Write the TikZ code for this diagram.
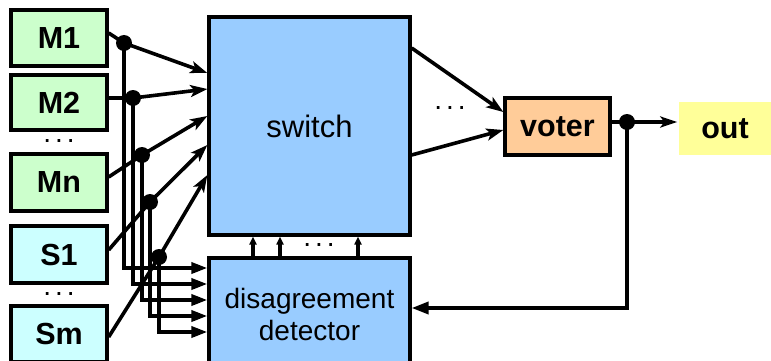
\documentclass[tikz,border=0pt]{standalone}
\usepackage{fontspec}
\setmainfont{Liberation Sans}
\usetikzlibrary{arrows.meta}
\definecolor{mgreen}{HTML}{CCFFCC}
\definecolor{scyan}{HTML}{CCFFFF}
\definecolor{sblue}{HTML}{99CCFF}
\definecolor{vorange}{HTML}{FFCC99}
\definecolor{oyellow}{HTML}{FFFF99}
\tikzset{
  box/.style={draw, line width=3.3pt, inner sep=0pt, minimum width=96pt, minimum height=56pt, font=\fontsize{30.5}{36}\selectfont\bfseries},
  sarr/.style={line width=3.6pt, -{Stealth[length=17pt,width=12pt,inset=4pt]}},
  tarr/.style={line width=3.6pt, -{Triangle[length=16pt,width=11pt]}},
  uarr/.style={line width=3.3pt, -{Triangle[length=8pt,width=7pt]}},
  wire/.style={line width=3.6pt},
  dot/.style={fill, circle, inner sep=0pt, minimum size=16pt},
  dots/.style={anchor=base, inner sep=0pt, font=\fontsize{28}{28}\selectfont}
}
\newcommand{\mydots}{.\kern4pt.\kern4pt.}
\begin{document}
\begin{tikzpicture}[x=1pt,y=-1pt]
\useasboundingbox (0,0) rectangle (771,361);
% input modules
\node[box, fill=mgreen] (M1) at (59,38) {M1};
\node[box, fill=mgreen, minimum height=55pt] (M2) at (59,102.5) {M2};
\node[dots] (dA) at (59,142) {\mydots};
\node[box, fill=mgreen, minimum height=57pt] (Mn) at (59,182.5) {Mn};
\node[box, fill=scyan, minimum height=57pt] (S1) at (59,254.5) {S1};
\node[dots] (dB) at (59,295) {\mydots};
\node[box, fill=scyan] (Sm) at (59,334) {Sm};
% switch and detector
\node[box, fill=sblue, minimum width=201pt, minimum height=218pt, font=\fontsize{31}{36}\selectfont] (sw) at (309.5,126) {switch};
\node[box, fill=sblue, minimum width=201pt, minimum height=112pt, align=center, font=\fontsize{28}{32}\selectfont] (det) at (309.5,314) {disagreement\\detector};
\node[box, fill=vorange, minimum width=105pt, minimum height=57pt] (voter) at (557.5,126.5) {voter};
\node[box, draw=none, fill=oyellow, minimum width=92pt, minimum height=53pt] (out) at (725,128.5) {out};
\node[dots] (dC) at (319,246) {\mydots};
\node[dots] (dD) at (450,110) {\mydots};
% junction dots
\node[dot] (j1) at (124,43) {};
\node[dot] (j2) at (133,98) {};
\node[dot] (j3) at (142,155) {};
\node[dot] (j4) at (150,202) {};
\node[dot] (j5) at (159,257) {};
\node[dot] (jv) at (627,122) {};
% module to switch
\draw[wire] ([yshift=5pt]M1.east) -- (j1.center);
\draw[sarr] (j1.center) -- ([yshift=53pt]sw.west);
\draw[wire] ([yshift=4.5pt]M2.east) -- (j2.center);
\draw[sarr] (j2.center) -- ([yshift=37pt]sw.west);
\draw[wire] ([yshift=5.5pt]Mn.east) -- (j3.center);
\draw[sarr] (j3.center) -- ([yshift=10pt]sw.west);
\draw[wire] ([yshift=4.5pt]S1.east) -- (j4.center);
\draw[sarr] (j4.center) -- ([yshift=-19pt]sw.west);
\draw[wire] ([yshift=-3pt]Sm.east) -- (j5.center);
\draw[sarr] (j5.center) -- ([yshift=-49pt]sw.west);
% taps to detector
\draw[tarr] (j1.center) |- ([yshift=46pt]det.west);
\draw[tarr] (j2.center) |- ([yshift=30pt]det.west);
\draw[tarr] (j3.center) |- ([yshift=14pt]det.west);
\draw[tarr] (j4.center) |- ([yshift=-2pt]det.west);
\draw[tarr] (j5.center) |- ([yshift=-18pt]det.west);
% detector to switch
\draw[uarr] ([xshift=-56.5pt]det.north) -- ([xshift=-56.5pt]sw.south);
\draw[uarr] ([xshift=-29.5pt]det.north) -- ([xshift=-29.5pt]sw.south);
\draw[uarr] ([xshift=48.5pt]det.north) -- ([xshift=48.5pt]sw.south);
% switch to voter
\draw[sarr] ([yshift=78pt]sw.east) -- ([yshift=14.5pt]voter.west);
\draw[sarr] ([yshift=-29pt]sw.east) -- ([yshift=-3.5pt]voter.west);
% voter output
\draw[wire] (voter.east |- jv) -- (jv.center);
\draw[line width=3.6pt, -{Stealth[length=17pt,width=11pt,inset=4pt]}] (jv.center) -- (out.west |- jv);
\draw[line width=3.6pt, -{Triangle[length=17pt,width=12pt]}] (jv.center) |- ([yshift=6pt]det.east);
\end{tikzpicture}
\end{document}
